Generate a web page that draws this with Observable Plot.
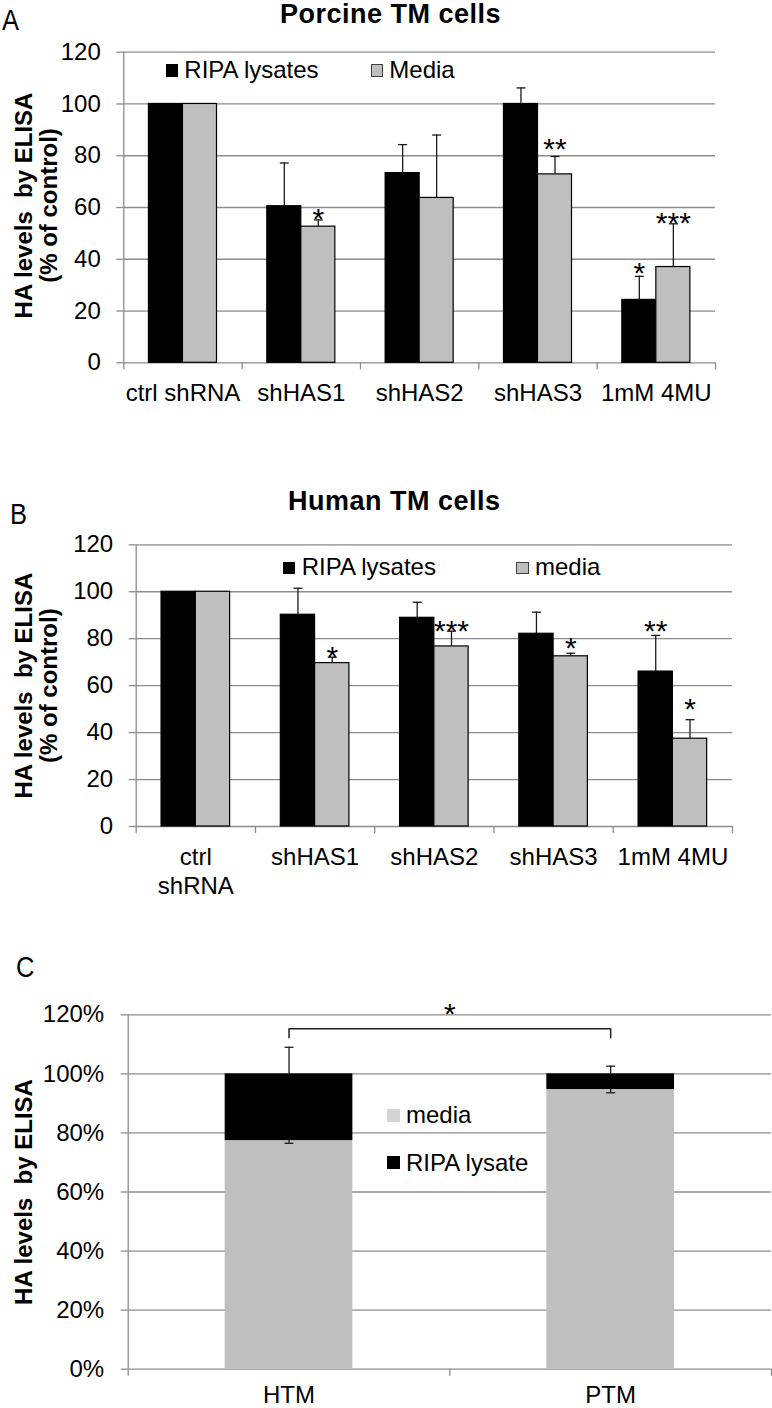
<!DOCTYPE html>
<html><head><meta charset="utf-8">
<script src="https://cdn.jsdelivr.net/npm/d3@7"></script>
<script src="https://cdn.jsdelivr.net/npm/@observablehq/plot@0.6"></script>
<style>
body{margin:0;background:#fff;}
#page{position:relative;width:772px;height:1408px;overflow:hidden;font-family:"Liberation Sans",Arial,sans-serif;color:#000;background:#fff;}
.abs{position:absolute;white-space:nowrap;line-height:1;}
.letter{font-size:30px;line-height:0.75;transform:scaleX(0.85);transform-origin:0 0;}
.title{font-size:27px;font-weight:bold;transform:translateX(-50%);line-height:0.9;letter-spacing:0.5px;}
.leg{font-size:24px;}
.sw{position:absolute;box-sizing:border-box;}
#page svg{position:absolute;left:0;overflow:visible;}
</style></head><body><div id="page"></div>
<script>
// ---------- Panel A: Porcine TM cells ----------
const categoriesA = ["ctrl shRNA", "shHAS1", "shHAS2", "shHAS3", "1mM 4MU"];
const ripaA      = [100, 60.5, 73.3, 100, 24.3];
const ripaSdA    = [0, 16.7, 11.0, 6.2, 9.1];
const mediaA     = [100, 52.6, 63.7, 72.8, 37.0];
const mediaSdA   = [0, 2.6, 24.3, 6.9, 16.7];
const ripaStarsA = ["", "", "", "", "*"];
const ripaStarYA = [0, 0, 0, 0, 37.6];
const mediaStarsA = ["", "*", "", "**", "***"];
const mediaStarYA = [0, 58.2, 0, 85.3, 56.6];

// ---------- Panel B: Human TM cells ----------
const categoriesB = ["ctrl\nshRNA", "shHAS1", "shHAS2", "shHAS3", "1mM 4MU"];
const ripaB      = [100, 90.2, 88.9, 82.1, 66.0];
const ripaSdB    = [0, 11.3, 6.6, 9.2, 15.4];
const mediaB     = [100, 69.6, 76.7, 72.5, 37.4];
const mediaSdB   = [0, 2.5, 6.5, 1.3, 8.1];
const ripaStarsB = ["", "", "", "", "**"];
const ripaStarYB = [0, 0, 0, 0, 86.3];
const mediaStarsB = ["", "*", "***", "*", "*"];
const mediaStarYB = [0, 75.4, 86.3, 79.2, 53.0];

// ---------- Panel C: fraction in media vs lysate ----------
const groupsC      = ["HTM", "PTM"];
const mediaC       = [77.4, 94.7];
const ripaC        = [22.6, 5.3];
const totalErrUpC  = [9.0, 2.6];
const mediaErrDnC  = [0.9, 1.1];
const bracketXC    = [0, 0, 1, 1];
const bracketYC    = [112.2, 115.3, 115.3, 112.2];
const sigStarC     = {x: 0.5, y: 122.6, text: "*"};

const yTicks = [0, 20, 40, 60, 80, 100, 120];
const seriesNames = ["RIPA lysates", "Media"];

// ---------- styling ----------
const FONT = '"Liberation Sans", Arial, sans-serif';
const GRID = "#8c8c8c";
const ERR = "#1a1a1a";
const GRAY = "#bfbfbf";
const BAR = 0.2875; // bar width as fraction of a category step
const capSymbol = {draw(ctx, size) { const r = Math.sqrt(size / Math.PI); ctx.moveTo(-r, 0); ctx.lineTo(r, 0); }};

const page = document.getElementById("page");
function addText(txt, cls, left, top, extra) {
  const d = document.createElement("div");
  d.className = "abs " + cls;
  d.textContent = txt;
  d.style.left = left + "px"; d.style.top = top + "px";
  if (extra) Object.assign(d.style, extra);
  page.appendChild(d);
}
function addSwatch(left, top, w, h, bg, border) {
  const d = document.createElement("div");
  d.className = "sw";
  Object.assign(d.style, {left: left + "px", top: top + "px", width: w + "px", height: h + "px", background: bg, border: border || "none"});
  page.appendChild(d);
}
function place(svg, top) { svg.style.top = top + "px"; page.appendChild(svg); }

function groupedPanel(o) {
  const rows = [];
  o.cats.forEach((c, i) => {
    rows.push({i, series: seriesNames[0], x1: i - BAR, x2: i, xc: i - BAR / 2, value: o.ripa[i], sd: o.ripaSd[i], star: o.ripaStars[i], starY: o.ripaStarY[i]});
    rows.push({i, series: seriesNames[1], x1: i, x2: i + BAR, xc: i + BAR / 2, value: o.media[i], sd: o.mediaSd[i], star: o.mediaStars[i], starY: o.mediaStarY[i]});
  });
  const errRows = rows.filter(d => d.sd > 0);
  const starRows = rows.filter(d => d.star);
  const bounds = d3.range(o.cats.length + 1).map(k => k - 0.5);
  const labels = o.cats.map((c, i) => ({i, c}));
  return Plot.plot({
    width: 772, height: o.height,
    marginTop: o.mt, marginBottom: o.mb, marginLeft: o.ml, marginRight: o.mr,
    x: {type: "linear", domain: [-0.5, o.cats.length - 0.5], label: null},
    y: {domain: [0, 120], label: null},
    color: {domain: seriesNames, range: ["#000000", GRAY]},
    style: {fontFamily: FONT, fontSize: "24px", background: "transparent", overflow: "visible", color: "#000"},
    marks: [
      Plot.gridY(yTicks, {stroke: GRID, strokeOpacity: 1, strokeWidth: 1.3}),
      Plot.axisY(yTicks, {tickSize: 7, tickPadding: 16, stroke: GRID, strokeWidth: 1.3, fill: "#000", fontSize: 24, label: null}),
      Plot.ruleX([-0.5], {stroke: GRID, strokeWidth: 1.3}),
      Plot.axisX(bounds, {tickSize: 7, tickFormat: () => "", stroke: GRID, strokeWidth: 1.3, label: null}),
      Plot.rect(rows, {x1: "x1", x2: "x2", y1: 0, y2: "value", fill: "series", stroke: "#000", strokeWidth: 1.2}),
      Plot.ruleX(errRows, {x: "xc", y1: "value", y2: d => d.value + d.sd, stroke: ERR, strokeWidth: 1.3}),
      Plot.dot(errRows, {x: "xc", y: d => d.value + d.sd, symbol: capSymbol, r: 4.5, stroke: ERR, fill: "none", strokeWidth: 1.3}),
      Plot.text(starRows, {x: "xc", y: "starY", text: "star", fontSize: 30, lineAnchor: "middle", dy: 7.5, fill: "#000"}),
      Plot.text(labels, {x: "i", text: "c", frameAnchor: "bottom", lineAnchor: "top", dy: o.labelDy, lineHeight: o.labelLH, fontSize: 24, fill: "#000"}),
      Plot.text(["HA levels  by ELISA\n(% of control)"], {frameAnchor: "left", textAnchor: "middle", rotate: -90, dx: o.titleDx, dy: o.titleDy, fontSize: 24, fontWeight: "bold", lineHeight: 1.03, lineAnchor: "middle", fill: "#000"})
    ]
  });
}

// Panel A
addText("A", "letter", 2, 8.5);
addText("Porcine TM cells", "title", 390.5, 2);
place(groupedPanel({cats: categoriesA, ripa: ripaA, ripaSd: ripaSdA, media: mediaA, mediaSd: mediaSdA,
  ripaStars: ripaStarsA, ripaStarY: ripaStarYA, mediaStars: mediaStarsA, mediaStarY: mediaStarYA,
  height: 420, mt: 51.7, mb: 57.7, ml: 123.3, mr: 57, labelDy: 20.7, labelLH: 1, titleDx: -86.9, titleDy: -2}), 0);
addSwatch(165.7, 64, 12.6, 12.6, "#000");
addText("RIPA lysates", "leg", 184.3, 58);
addSwatch(370.7, 64, 12.6, 12.6, GRAY, "1px solid #404040");
addText("Media", "leg", 389.3, 58);

// Panel B
addText("B", "letter", 10, 503);
addText("Human TM cells", "title", 394.2, 489);
place(groupedPanel({cats: categoriesB, ripa: ripaB, ripaSd: ripaSdB, media: mediaB, mediaSd: mediaSdB,
  ripaStars: ripaStarsB, ripaStarY: ripaStarYB, mediaStars: mediaStarsB, mediaStarY: mediaStarYB,
  height: 490, mt: 124.3, mb: 84, ml: 135.7, mr: 40, labelDy: 18.6, labelLH: 1.18, titleDx: -99.3, titleDy: 0}), 420);
addSwatch(282.7, 561.7, 12.5, 12.5, "#000");
addText("RIPA lysates", "leg", 301.7, 554.7);
addSwatch(516, 561.5, 12.5, 12.5, GRAY, "1px solid #404040");
addText("media", "leg", 535, 554.7);

// Panel C
addText("C", "letter", 16, 956);
(function () {
  const HALF = 0.1985;
  const rows = [];
  groupsC.forEach((g, i) => {
    rows.push({i, series: "media", x1: i - HALF, x2: i + HALF, y1: 0, y2: mediaC[i]});
    rows.push({i, series: "RIPA lysate", x1: i - HALF, x2: i + HALF, y1: mediaC[i], y2: mediaC[i] + ripaC[i]});
  });
  const up = groupsC.map((g, i) => ({x: i, y1: mediaC[i] + ripaC[i], y2: mediaC[i] + ripaC[i] + totalErrUpC[i]}));
  const dn = groupsC.map((g, i) => ({x: i, y1: mediaC[i], y2: mediaC[i] - mediaErrDnC[i]}));
  const errs = up.concat(dn);
  const bracket = bracketXC.map((x, k) => ({x, y: bracketYC[k]}));
  const bounds = d3.range(groupsC.length + 1).map(k => k - 0.5);
  const labels = groupsC.map((c, i) => ({i, c}));
  const svg = Plot.plot({
    width: 772, height: 498,
    marginTop: 104.3, marginBottom: 39.3, marginLeft: 127.7, marginRight: 1,
    x: {type: "linear", domain: [-0.5, groupsC.length - 0.5], label: null},
    y: {domain: [0, 120], label: null},
    color: {domain: ["media", "RIPA lysate"], range: [GRAY, "#000000"]},
    style: {fontFamily: FONT, fontSize: "24px", background: "transparent", overflow: "visible", color: "#000"},
    marks: [
      Plot.gridY(yTicks, {stroke: GRID, strokeOpacity: 1, strokeWidth: 1.3}),
      Plot.axisY(yTicks, {tickSize: 7, tickPadding: 17, tickFormat: d => d + "%", stroke: GRID, strokeWidth: 1.3, fill: "#000", fontSize: 24, label: null}),
      Plot.ruleX([-0.5], {stroke: GRID, strokeWidth: 1.3}),
      Plot.axisX(bounds, {tickSize: 7, tickFormat: () => "", stroke: GRID, strokeWidth: 1.3, label: null}),
      Plot.rect(rows, {x1: "x1", x2: "x2", y1: "y1", y2: "y2", fill: "series"}),
      Plot.ruleX(errs, {x: "x", y1: "y1", y2: "y2", stroke: ERR, strokeWidth: 1.3}),
      Plot.dot(errs, {x: "x", y: "y2", symbol: capSymbol, r: 4.5, stroke: ERR, fill: "none", strokeWidth: 1.3}),
      Plot.line(bracket, {x: "x", y: "y", stroke: "#222", strokeWidth: 1.5}),
      Plot.text([sigStarC], {x: "x", y: "y", text: "text", fontSize: 30, lineAnchor: "middle", dy: 7.5, fill: "#000"}),
      Plot.text(labels, {x: "i", text: "c", frameAnchor: "bottom", lineAnchor: "top", dy: 16.5, fontSize: 24, fill: "#000"}),
      Plot.text(["HA levels  by ELISA"], {frameAnchor: "left", textAnchor: "middle", rotate: -90, dx: -103.7, fontSize: 24, fontWeight: "bold", lineAnchor: "middle", fill: "#000"})
    ]
  });
  place(svg, 910);
})();
addSwatch(387, 1109, 13, 13, "#d4d4d4");
addText("media", "leg", 406, 1103);
addSwatch(387, 1156, 13, 12.5, "#000");
addText("RIPA lysate", "leg", 406, 1151.4);
</script>
</body></html>
